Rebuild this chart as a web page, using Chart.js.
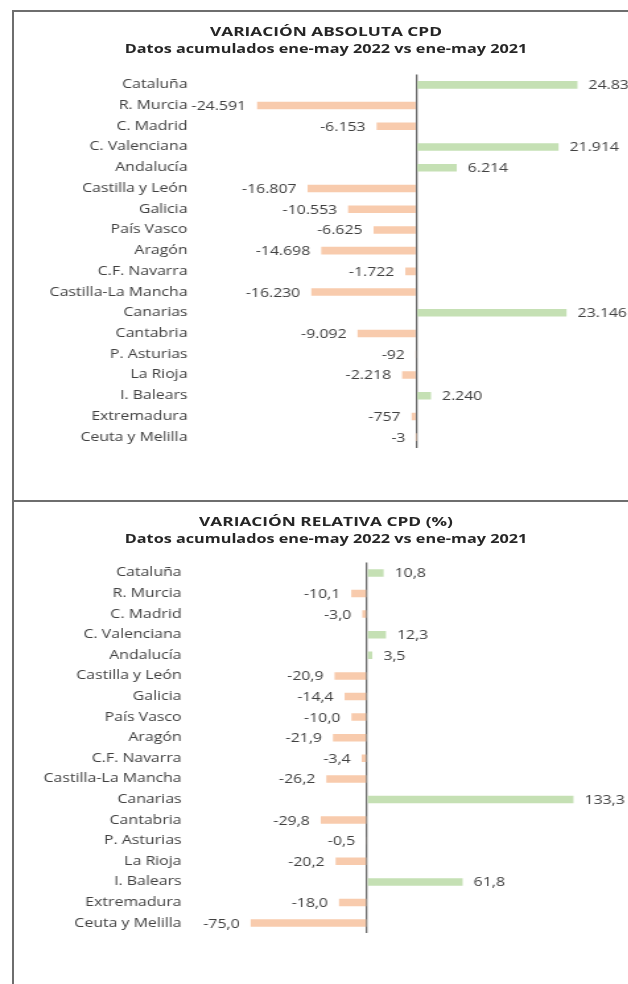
<!DOCTYPE html>
<html><head><meta charset="utf-8">
<script src="https://cdn.jsdelivr.net/npm/chart.js@4.4.0/dist/chart.umd.min.js"></script>
<style>
html,body{margin:0;padding:0;width:628px;height:984px;overflow:hidden;background:#fff;}
#wrap{position:absolute;left:0;top:0;width:628px;height:984px;transform-origin:0 0;}
.box{position:absolute;}
.t{position:absolute;text-align:center;font-family:'Open Sans';font-weight:bold;color:#262626;white-space:nowrap;}
.line{position:absolute;background:#6e6e6e;}
</style></head><body>
<div id="wrap">
  <div class="box" id="box1"><canvas id="c1"></canvas></div>
  <div class="box" id="box2"><canvas id="c2"></canvas></div>
  <div class="t" id="t1a">VARIACIÓN ABSOLUTA CPD</div>
  <div class="t" id="t1b">Datos acumulados ene-may 2022 vs ene-may 2021</div>
  <div class="t" id="t2a">VARIACIÓN RELATIVA CPD (%)</div>
  <div class="t" id="t2b">Datos acumulados ene-may 2022 vs ene-may 2021</div>
</div>
<div class="line" style="left:12px;top:10px;width:2px;height:974px"></div>
<div class="line" style="left:12px;top:10px;width:616px;height:1.5px"></div>
<div class="line" style="left:12px;top:500px;width:616px;height:1.5px"></div>
<script>
// ---- data ----
const categories = ["Cataluña","R. Murcia","C. Madrid","C. Valenciana","Andalucía","Castilla y León","Galicia","País Vasco","Aragón","C.F. Navarra","Castilla-La Mancha","Canarias","Cantabria","P. Asturias","La Rioja","I. Balears","Extremadura","Ceuta y Melilla"];
const absoluteValues = [24834,-24591,-6153,21914,6214,-16807,-10553,-6625,-14698,-1722,-16230,23146,-9092,-92,-2218,2240,-757,-3];
const relativeValues = [10.8,-10.1,-3.0,12.3,3.5,-20.9,-14.4,-10.0,-21.9,-3.4,-26.2,133.3,-29.8,-0.5,-20.2,61.8,-18.0,-75.0];
const absoluteAxis = {min:-30000, max:30000, step:10000};
const relativeAxis = {min:-100, max:150, step:50};

// ---- style / layout ----
const K = 1.32; // horizontal stretch of the reference rendering
const GREEN = '#c5e0b4', ORANGE = '#f8cbad';
document.getElementById('wrap').style.transform = `scaleX(${K})`;
Chart.defaults.font.family = "'Open Sans'";
Chart.defaults.font.size = 12;
Chart.defaults.color = '#404040';

function placeTitle(id, cx, cy, size){
  const el = document.getElementById(id);
  el.style.fontSize = size + 'px';
  el.style.lineHeight = '20px';
  el.style.width = (500) + 'px';
  el.style.left = (cx / K - 250) + 'px';
  el.style.top = (cy - 10) + 'px';
}
placeTitle('t1a', 326, 31, 13.1);
placeTitle('t1b', 326, 49, 12.3);
placeTitle('t2a', 326, 521, 13.1);
placeTitle('t2b', 326, 539, 12.3);

function fmtThousands(v){
  const s = Math.abs(v).toString().replace(/\B(?=(\d{3})+(?!\d))/g, '.');
  return (v < 0 ? '-' : '') + s;
}
function fmtDecimal(v){ return v.toFixed(1).replace('.', ','); }

const valueLabels = {
  id: 'valueLabels',
  afterDatasetsDraw(chart, args, opts){
    const ctx = chart.ctx;
    const meta = chart.getDatasetMeta(0);
    const data = chart.data.datasets[0].data;
    ctx.save();
    ctx.font = "12px 'Open Sans'";
    ctx.fillStyle = '#404040';
    ctx.textBaseline = 'middle';
    meta.data.forEach((bar, i) => {
      const v = data[i];
      const txt = opts.fmt(v);
      if (v >= 0) { ctx.textAlign = 'left'; ctx.fillText(txt, bar.x + opts.gap, bar.y + 1); }
      else { ctx.textAlign = 'right'; ctx.fillText(txt, bar.x - opts.gap, bar.y + 1); }
    });
    ctx.restore();
  }
};

function makeChart(canvasId, boxId, values, axis, fmt, g){
  const box = document.getElementById(boxId);
  const left = 14, right = 628;
  box.style.left = (left / K) + 'px';
  box.style.width = ((right - left) / K) + 'px';
  box.style.top = g.top + 'px';
  box.style.height = g.height + 'px';
  return new Chart(document.getElementById(canvasId), {
    type: 'bar',
    data: {
      labels: categories,
      datasets: [{
        data: values,
        backgroundColor: values.map(v => v >= 0 ? GREEN : ORANGE),
        borderWidth: 0,
        categoryPercentage: 1,
        barPercentage: 0.365
      }]
    },
    options: {
      indexAxis: 'y',
      responsive: true,
      maintainAspectRatio: false,
      animation: false,
      layout: { padding: { left: 0, right: (right - g.areaR) / K, top: g.areaT - g.top, bottom: g.top + g.height - g.areaB } },
      plugins: {
        legend: { display: false },
        tooltip: { enabled: false },
        valueLabels: { fmt: fmt, gap: 11 / K }
      },
      scales: {
        x: {
          type: 'linear', min: axis.min, max: axis.max,
          ticks: { display: false, stepSize: axis.step },
          grid: { drawTicks: false, lineWidth: 1.3, color: c => c.tick && c.tick.value === 0 ? '#6b6b6b' : 'rgba(0,0,0,0)' },
          border: { display: false }
        },
        y: {
          grid: { display: false, drawTicks: false },
          border: { display: false },
          ticks: { padding: (g.areaL - g.labelR) / K, color: '#404040', font: { size: 12 }, autoSkip: false },
          afterFit: s => { s.width = (g.areaL - left) / K; }
        }
      }
    },
    plugins: [valueLabels]
  });
}

makeChart('c1', 'box1', absoluteValues, absoluteAxis, fmtThousands,
  { top: 11, height: 489, areaL: 221.5, areaR: 610.5, areaT: 74.5, areaB: 447.5, labelR: 187 });
makeChart('c2', 'box2', relativeValues, relativeAxis, fmtDecimal,
  { top: 502, height: 482, areaL: 211.4, areaR: 598.9, areaT: 562.6, areaB: 933.4, labelR: 181 });
</script>
</body></html>
